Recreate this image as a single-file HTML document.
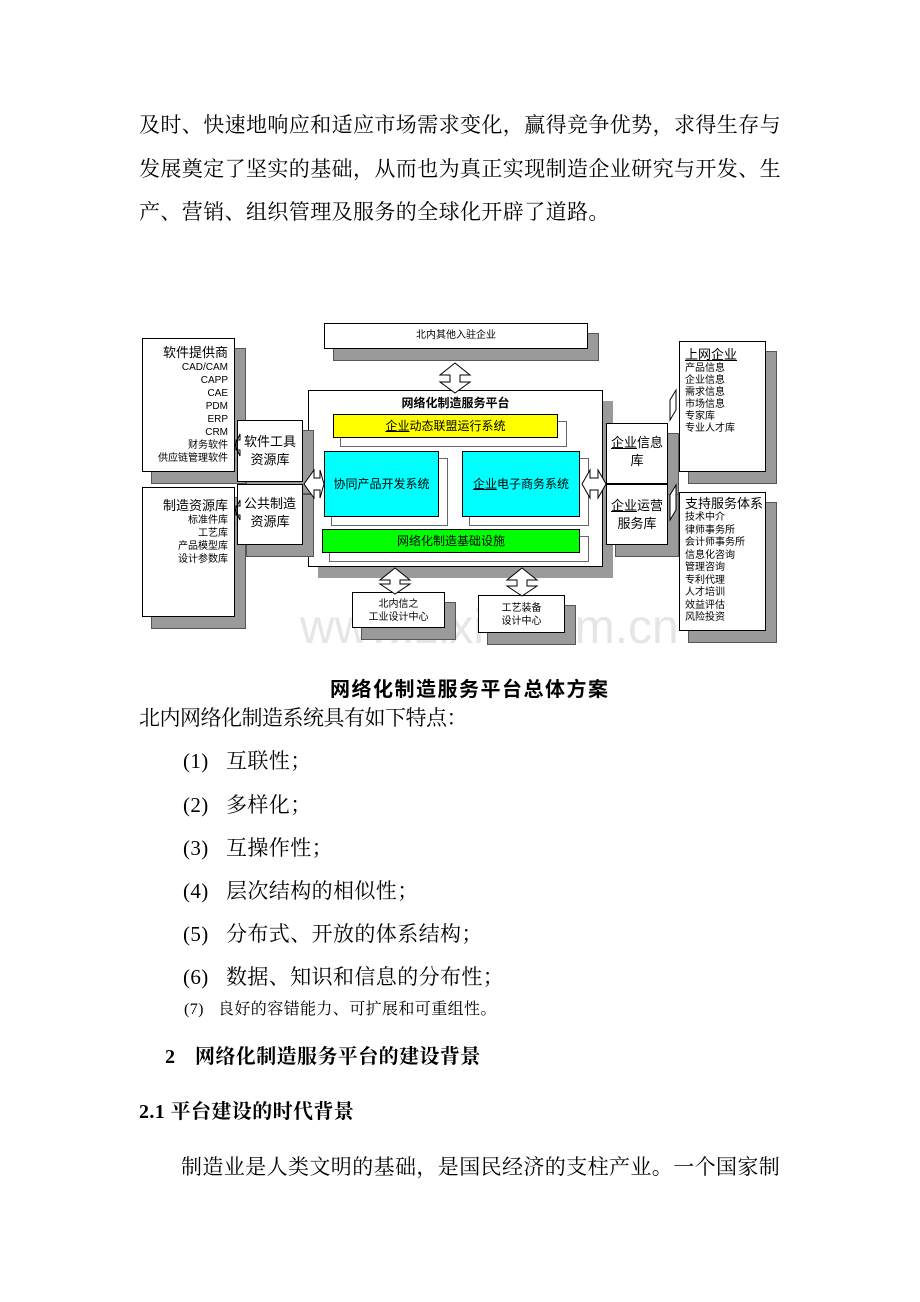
<!DOCTYPE html>
<html><head><meta charset="utf-8"><style>
body{margin:0;width:920px;height:1302px;background:#fff;position:relative;overflow:hidden}
.t{position:absolute;font-family:"Liberation Serif","Noto Serif CJK SC",serif;font-size:21px;line-height:24px;white-space:nowrap;color:#000;letter-spacing:0.4px}
.b{font-weight:bold}
.box{position:absolute;background:#fff;border:1px solid #000;box-shadow:10px 11px 0 #9a9a9a, 10px 11px 0 1px #555;box-sizing:border-box;font-family:"Liberation Sans","Noto Sans CJK SC",sans-serif;color:#000}
.s{font-size:10px;line-height:13px;text-align:right;padding-right:6px}
.c{text-align:center}
.fill{position:absolute;border:1px solid #000;box-sizing:border-box;font-family:"Liberation Sans","Noto Sans CJK SC",sans-serif;font-size:12px;text-align:center;box-shadow:8px 8px 0 #fff,8px 8px 0 1px #666}
</style></head><body>
<div class="t" style="left:139px;top:113px">及时、快速地响应和适应市场需求变化，赢得竞争优势，求得生存与</div>
<div class="t" style="left:139px;top:157px">发展奠定了坚实的基础，从而也为真正实现制造企业研究与开发、生</div>
<div class="t" style="left:139px;top:200px">产、营销、组织管理及服务的全球化开辟了道路。</div>

<div style="position:absolute;left:300px;top:600px;font-family:'Liberation Sans',sans-serif;font-size:48px;color:#e6e6e6">www.zixin.com.cn</div>
<div class="box c" style="left:324px;top:323px;width:264px;height:26px;font-size:10px;line-height:24px">北内其他入驻企业</div>
<div class="box s" style="left:142px;top:338px;width:93px;height:134px;padding-top:6px"><div style="font-size:13px;line-height:16px">软件提供商</div>CAD/CAM<br>CAPP<br>CAE<br>PDM<br>ERP<br>CRM<br>财务软件<br>供应链管理软件</div>
<div class="box s" style="left:142px;top:487px;width:93px;height:130px;padding-top:10px"><div style="font-size:13px;line-height:16px">制造资源库</div>标准件库<br>工艺库<br>产品模型库<br>设计参数库</div>
<div class="box c" style="left:308px;top:390px;width:295px;height:177px;box-shadow:10px 11px 0 #9a9a9a"><div style="font-weight:bold;font-size:12px;margin-top:3px">网络化制造服务平台</div></div>
<div class="fill" style="left:333px;top:414px;width:225px;height:24px;background:#ffff00;line-height:22px"><u>企业</u>动态联盟运行系统</div>
<div class="fill" style="left:324px;top:451px;width:115px;height:66px;background:#00ffff;line-height:64px">协同产品开发系统</div>
<div class="fill" style="left:462px;top:451px;width:118px;height:66px;background:#00ffff;line-height:64px"><u>企业</u>电子商务系统</div>
<div class="fill" style="left:322px;top:529px;width:258px;height:24px;background:#00ff00;line-height:22px">网络化制造基础设施</div>
<div class="box c" style="left:237px;top:420px;width:66px;height:62px;font-size:13px;line-height:18px;padding-top:12px">软件工具<br>资源库</div>
<div class="box c" style="left:237px;top:484px;width:66px;height:61px;font-size:13px;line-height:18px;padding-top:10px">公共制造<br>资源库</div>
<div class="box c" style="left:606px;top:423px;width:62px;height:61px;font-size:13px;line-height:18px;padding-top:10px"><u>企业</u>信息<br>库</div>
<div class="box c" style="left:606px;top:484px;width:62px;height:61px;font-size:13px;line-height:18px;padding-top:12px"><u>企业</u>运营<br>服务库</div>
<div class="box" style="left:679px;top:341px;width:87px;height:131px;font-size:10px;line-height:12px;padding:5px 0 0 5px"><div style="font-size:13px;line-height:16px;text-decoration:underline">上网企业</div>产品信息<br>企业信息<br>需求信息<br>市场信息<br>专家库<br>专业人才库</div>
<div class="box" style="left:679px;top:492px;width:87px;height:139px;font-size:10px;line-height:12.5px;padding:3px 0 0 5px"><div style="font-size:13px;line-height:16px">支持服务体系</div>技术中介<br>律师事务所<br>会计师事务所<br>信息化咨询<br>管理咨询<br>专利代理<br>人才培训<br>效益评估<br>风险投资</div>
<div class="box c" style="left:352px;top:592px;width:93px;height:36px;font-size:10px;line-height:13px;padding-top:5px">北内信之<br>工业设计中心</div>
<div class="box c" style="left:478px;top:595px;width:87px;height:38px;font-size:10px;line-height:13px;padding-top:6px">工艺装备<br>设计中心</div>
<svg style="position:absolute;left:0;top:0" width="920" height="700">
<g fill="#fff" stroke="#000" stroke-width="1">
<polygon points="455,363 440,375 450,375 450,382 440,382 455,393 470,382 460,382 460,375 470,375"/>
<polygon points="395,568 380,580 390,580 390,584 380,584 395,594 410,584 400,584 400,580 410,580"/>
<polygon points="522,568 507,580 517,580 517,586 507,586 522,596 537,586 527,586 527,580 537,580"/>
<polygon points="304,484 314,470 314,478 320,478 320,470 324,484 320,498 320,490 314,490 314,498"/>
<polygon points="582,484 590,470 590,478 598,478 598,470 606,484 598,498 598,490 590,490 590,498"/>
<polygon points="235,445 240,434 240,440 236,440 236,450 240,450 240,456"/>
<polygon points="235,510 240,500 240,506 236,506 236,515 240,515 240,520"/>
<polygon points="670,400 676,390 676,410 670,420"/>
<polygon points="670,495 676,485 676,510 670,520"/>
</g></svg>

<div class="t b" style="left:330px;top:678px;font-family:'Liberation Sans','Noto Sans CJK SC',sans-serif;font-size:20px;letter-spacing:1.5px">网络化制造服务平台总体方案</div>
<div class="t" style="left:139px;top:706px;letter-spacing:-0.5px">北内网络化制造系统具有如下特点：</div>
<div class="t" style="left:183px;top:749px">(1)</div><div class="t" style="left:226px;top:749px">互联性；</div>
<div class="t" style="left:183px;top:793px">(2)</div><div class="t" style="left:226px;top:793px">多样化；</div>
<div class="t" style="left:183px;top:836px">(3)</div><div class="t" style="left:226px;top:836px">互操作性；</div>
<div class="t" style="left:183px;top:879px">(4)</div><div class="t" style="left:226px;top:879px">层次结构的相似性；</div>
<div class="t" style="left:183px;top:922px">(5)</div><div class="t" style="left:226px;top:922px">分布式、开放的体系结构；</div>
<div class="t" style="left:183px;top:965px">(6)</div><div class="t" style="left:226px;top:965px">数据、知识和信息的分布性；</div>
<div class="t" style="left:184px;top:998px;font-size:16px">(7)</div><div class="t" style="left:218px;top:998px;font-size:16px">良好的容错能力、可扩展和可重组性。</div>
<div class="t b" style="left:165px;top:1045px;font-size:20px">2</div><div class="t b" style="left:195px;top:1045px;font-size:20px">网络化制造服务平台的建设背景</div>
<div class="t b" style="left:139px;top:1100px;font-size:20px">2.1 平台建设的时代背景</div>
<div class="t" style="left:181px;top:1155px">制造业是人类文明的基础，是国民经济的支柱产业。一个国家制</div>
</body></html>
